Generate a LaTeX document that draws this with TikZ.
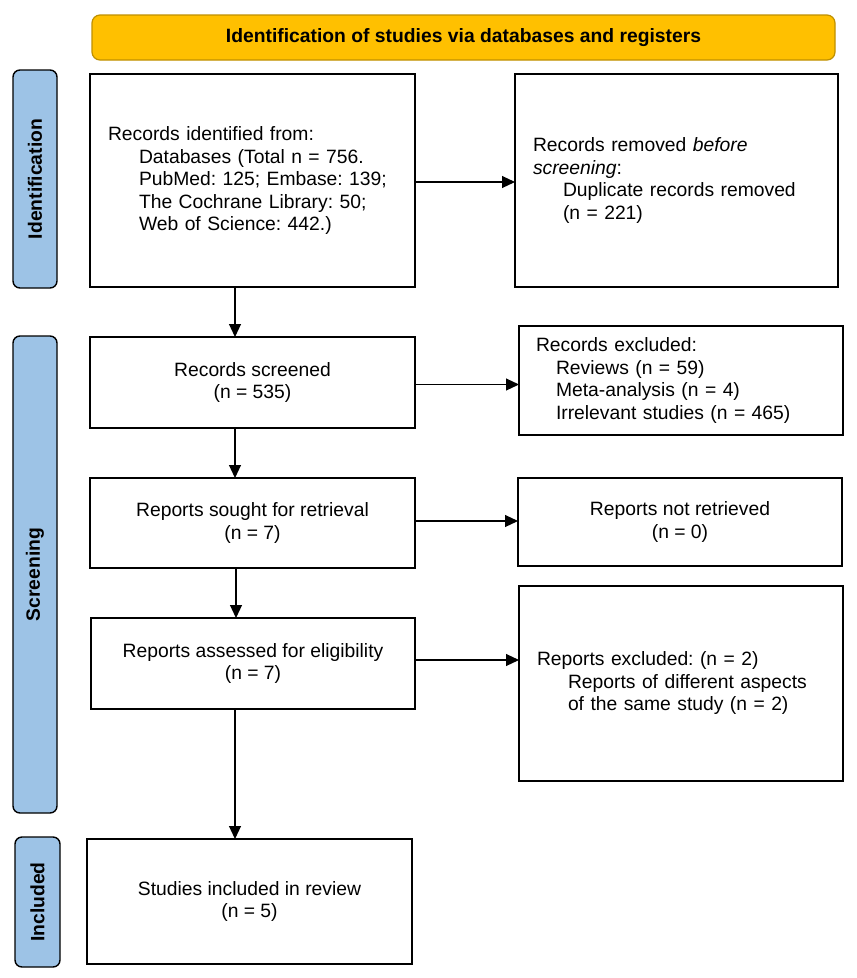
\documentclass[tikz,border=0pt]{standalone}
\usepackage{fontspec}
\setmainfont{Liberation Sans}
\usetikzlibrary{arrows.meta}
\definecolor{bannerfill}{HTML}{FFC000}
\definecolor{bannerline}{HTML}{BF9000}
\definecolor{barfill}{HTML}{9DC3E6}
\frenchspacing
\begin{document}
\begin{tikzpicture}[x=1pt,y=-1pt,
  txt/.style={font=\fontsize{19.3}{22.5}\selectfont\frenchspacing},
  box/.style={txt,draw=black,line width=1.6pt,fill=white,inner xsep=0pt,inner ysep=0pt,outer sep=0pt,anchor=center},
  cbox/.style={box,align=center},
  lbox/.style={box,align=left},
  bar/.style={draw=black,line width=1.4pt,fill=barfill,rounded corners=7pt,rotate=90,
    font=\fontsize{19.3}{22.5}\selectfont\bfseries,inner sep=0pt,outer sep=0pt,anchor=center},
  arr/.style={line width=1.1pt,-{Triangle[length=13pt,width=12pt]}}
]
\useasboundingbox (0,0) rectangle (857,978);
\fill[white] (0,0) rectangle (857,978);

% banner
\node[draw=bannerline,line width=1.2pt,fill=bannerfill,rounded corners=8pt,
  minimum width=743pt,minimum height=45pt,inner sep=0pt,
  font=\fontsize{19.3}{22.5}\selectfont\bfseries] (banner) at (463.5,37.5)
  {Identification of studies via databases and registers};

% side bars
\node[bar,minimum width=218pt,minimum height=44pt] (barid) at (35,179) {Identification};
\node[bar,minimum width=477pt,minimum height=44pt] (barsc) at (35,574.5) {Screening};
\node[bar,minimum width=130pt,minimum height=45pt] (barin) at (37.5,902) {Included};

% boxes
\node[lbox,minimum width=325pt,minimum height=213pt,text width=289pt,inner xsep=18pt] (b1) at (252.5,180.5)
  {Records identified from:\\
   \hspace*{31pt}Databases (Total n = 756.\\
   \hspace*{31pt}PubMed: 125; Embase: 139;\\
   \hspace*{31pt}The Cochrane Library: 50;\\
   \hspace*{31pt}Web of Science: 442.)};
\node[lbox,minimum width=323pt,minimum height=213pt,text width=287pt,inner xsep=18pt] (b2) at (676.5,180.5)
  {Records removed \textit{before}\\
   \textit{screening}:\\
   \hspace*{30pt}Duplicate records removed\\
   \hspace*{30pt}(n = 221)};
\node[cbox,minimum width=325pt,minimum height=91pt] (b3) at (252.5,382.5)
  {Records screened\\(n = 535)};
\node[lbox,minimum width=324pt,minimum height=109pt,text width=290pt,inner xsep=17pt] (b4) at (681,380.5)
  {Records excluded:\\
   \hspace*{20pt}Reviews (n = 59)\\
   \hspace*{20pt}Meta-analysis (n = 4)\\
   \hspace*{20pt}Irrelevant studies (n = 465)};
\node[cbox,minimum width=325pt,minimum height=90pt] (b5) at (252.5,523)
  {Reports sought for retrieval\\(n = 7)};
\node[cbox,minimum width=324pt,minimum height=88pt] (b6) at (680,522)
  {Reports not retrieved\\(n = 0)};
\node[cbox,minimum width=324pt,minimum height=91pt] (b7) at (253,663.5)
  {Reports assessed for eligibility\\(n = 7)};
\node[lbox,minimum width=324pt,minimum height=195pt,text width=288pt,inner xsep=18pt] (b8) at (681,683.5)
  {Reports excluded: (n = 2)\\
   \hspace*{31pt}Reports of different aspects\\
   \hspace*{31pt}of the same study (n = 2)};
\node[cbox,minimum width=325pt,minimum height=125pt] (b9) at (249.5,901.5)
  {Studies included in review\\(n = 5)};

% connectors
\coordinate (ax) at (235,0);
\draw[arr] (b1.south -| ax) -- (b3.north -| ax);
\draw[arr] (b3.south -| ax) -- (b5.north -| ax);
\draw[arr] ([xshift=1pt]b5.south -| ax) -- ([xshift=1pt]b7.north -| ax);
\draw[arr] (b7.south -| ax) -- (b9.north -| ax);
\draw[arr] ([yshift=-1.5pt]b1.east) -- ([yshift=-1.5pt]b1.east -| b2.west);
\draw[arr] ([yshift=-2pt]b3.east) -- ([yshift=-2pt]b3.east -| b4.west);
\draw[arr] ([yshift=2pt]b5.east) -- ([yshift=2pt]b5.east -| b6.west);
\draw[arr] ([yshift=3.5pt]b7.east) -- ([yshift=3.5pt]b7.east -| b8.west);
\end{tikzpicture}
\end{document}
